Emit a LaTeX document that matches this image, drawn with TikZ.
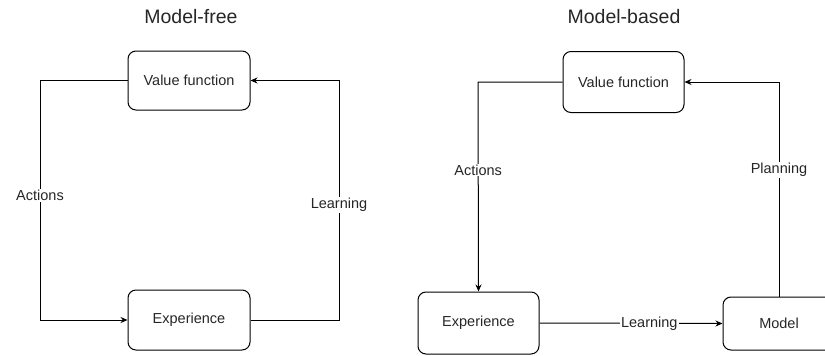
\documentclass[tikz,border=0pt]{standalone}
\usepackage{fontspec}
\setmainfont{Liberation Sans}
\usetikzlibrary{arrows.meta}
\begin{document}
\begin{tikzpicture}[x=1pt,y=-1pt,
  box/.style={draw, line width=1pt, rounded corners=8pt, inner sep=0pt, font=\fontsize{14.5}{17}\selectfont, text=black!85},
  conn/.style={line width=1pt, -{Stealth[length=7pt,width=6pt]}},
  lbl/.style={fill=white, inner sep=1pt, font=\fontsize{14.5}{17}\selectfont, text=black!85},
  ttl/.style={font=\fontsize{19.5}{23}\selectfont, text=black!85}]
\useasboundingbox (0,0) rectangle (825,356);
% Model-free
\node[ttl] (t1) at (191,17) {Model-free};
\node[box, minimum width=122pt, minimum height=59pt] (vf1) at (189,80.5) {Value function};
\node[box, minimum width=122pt, minimum height=60pt] (ex1) at (189,320) {Experience};
\coordinate (a1) at (40,80.5);
\coordinate (a2) at (40,320);
\coordinate (l1) at (339,320);
\coordinate (l2) at (339,80.5);
\draw[conn] (vf1.west) -- (a1) -- node[lbl, pos=0.48] (act1) {Actions} (a2) -- (ex1.west);
\draw[conn] (ex1.east) -- (l1) -- node[lbl, pos=0.48] (lrn1) {Learning} (l2) -- (vf1.east);
% Model-based
\node[ttl] (t2) at (624,17) {Model-based};
\node[box, minimum width=121pt, minimum height=61pt] (vf2) at (623.5,82) {Value function};
\node[box, minimum width=121pt, minimum height=62pt] (ex2) at (478.5,323) {Experience};
\node[box, minimum width=112pt, minimum height=53pt] (md2) at (779,323.5) {Model};
\coordinate (b1) at (478,82);
\coordinate (p1) at (779,82);
\draw[conn] (vf2.west) -- (b1) -- node[lbl, pos=0.42] (act2) {Actions} (ex2.north);
\draw[conn] (ex2.east) -- node[lbl, pos=0.6] (lrn2) {Learning} (md2.west);
\draw[conn] (md2.north) -- node[lbl, pos=0.59] (pln2) {Planning} (p1) -- (vf2.east);
\end{tikzpicture}
\end{document}
